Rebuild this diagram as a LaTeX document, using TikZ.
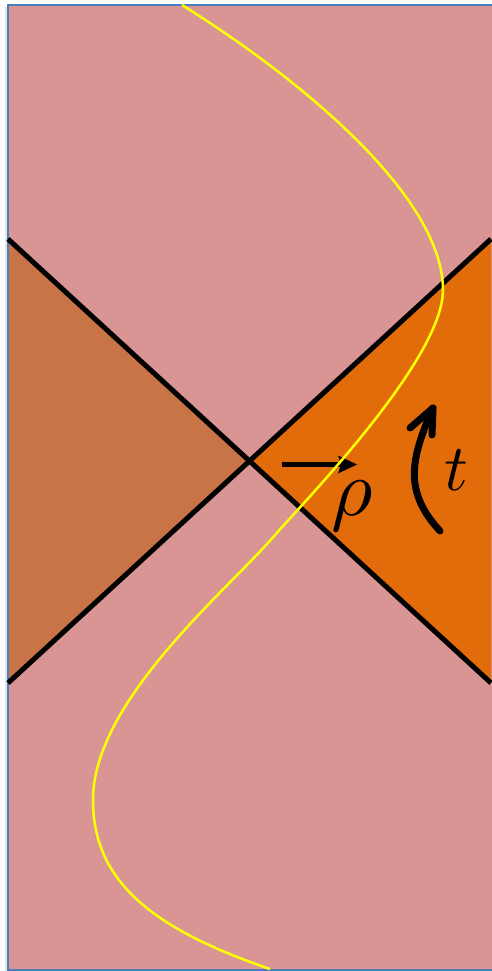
\documentclass[tikz,border=0pt]{standalone}
\usetikzlibrary{arrows.meta}
\definecolor{pinkbg}{HTML}{D99594}
\definecolor{leftwedge}{HTML}{C87447}
\definecolor{rightwedge}{HTML}{E36C0A}
\definecolor{frameblue}{HTML}{4A7EBB}
\definecolor{curveyellow}{HTML}{FFFF00}
\tikzset{
  horizon/.style={draw=black, line width=5pt},
  arrowline/.style={draw=black, line width=5.5pt},
  tarrow/.style={draw=black, line width=7pt, line cap=round, line join=round},
  worldline/.style={draw=curveyellow, line width=2.5pt},
  biglabel/.style={inner sep=0pt, anchor=base, text=black}
}
\begin{document}
\begin{tikzpicture}[x=1pt,y=-1pt]
\useasboundingbox (0,0) rectangle (491,971);
% background strip
\fill[black!10] (5,7) rectangle (495,972);
\filldraw[fill=pinkbg, draw=frameblue, line width=2pt] (7.5,5) rectangle (500,969.5);
% wedges
\coordinate (ul) at (8,239);
\coordinate (ur) at (491,239);
\coordinate (ll) at (8,683);
\coordinate (lr) at (491,683);
\coordinate (c) at (250,461);
\filldraw[fill=leftwedge, draw=frameblue, line width=1.5pt] (ul) -- (c) -- (ll) -- cycle;
\fill[rightwedge] (ur) -- (c) -- (lr) -- cycle;
% horizons
\draw[horizon] (ul) -- (lr);
\draw[horizon] (ll) -- (ur);
% rho arrow
\coordinate (rs) at (282,464.5);
\coordinate (rb) at (342,464.5);
\coordinate (re) at (357,464.5);
\draw[arrowline] (rs) -- (rb);
\fill[black] (re) -- (338,455.5) -- (341,464.5) -- (338,473.5) -- cycle;
% t arrow
\coordinate (ts) at (440,531);
\coordinate (te) at (433,408);
\coordinate (tb1) at (410,428);
\coordinate (tb2) at (432,435);
\draw[tarrow] (ts) .. controls (404,492) and (410,460) .. (te);
\draw[tarrow] (tb1) -- (te) -- (tb2);
% world line
\coordinate (w0) at (182,5);
\coordinate (w1) at (443,290);
\coordinate (w2) at (275,535);
\coordinate (w3) at (93,800);
\coordinate (w4) at (270,969);
\draw[worldline] (w0) .. controls (310,85) and (443,200) .. (w1)
  .. controls (443,360) and (300,506) .. (w2)
  .. controls (230,588) and (93,700) .. (w3)
  .. controls (93,880) and (150,928) .. (w4);
% labels
\node[biglabel] (rho) at (352,515) {\scalebox{8}{$\rho$}};
\node[biglabel] (tlab) at (456,490) {\scalebox{6.6}{$t$}};
\end{tikzpicture}
\end{document}
